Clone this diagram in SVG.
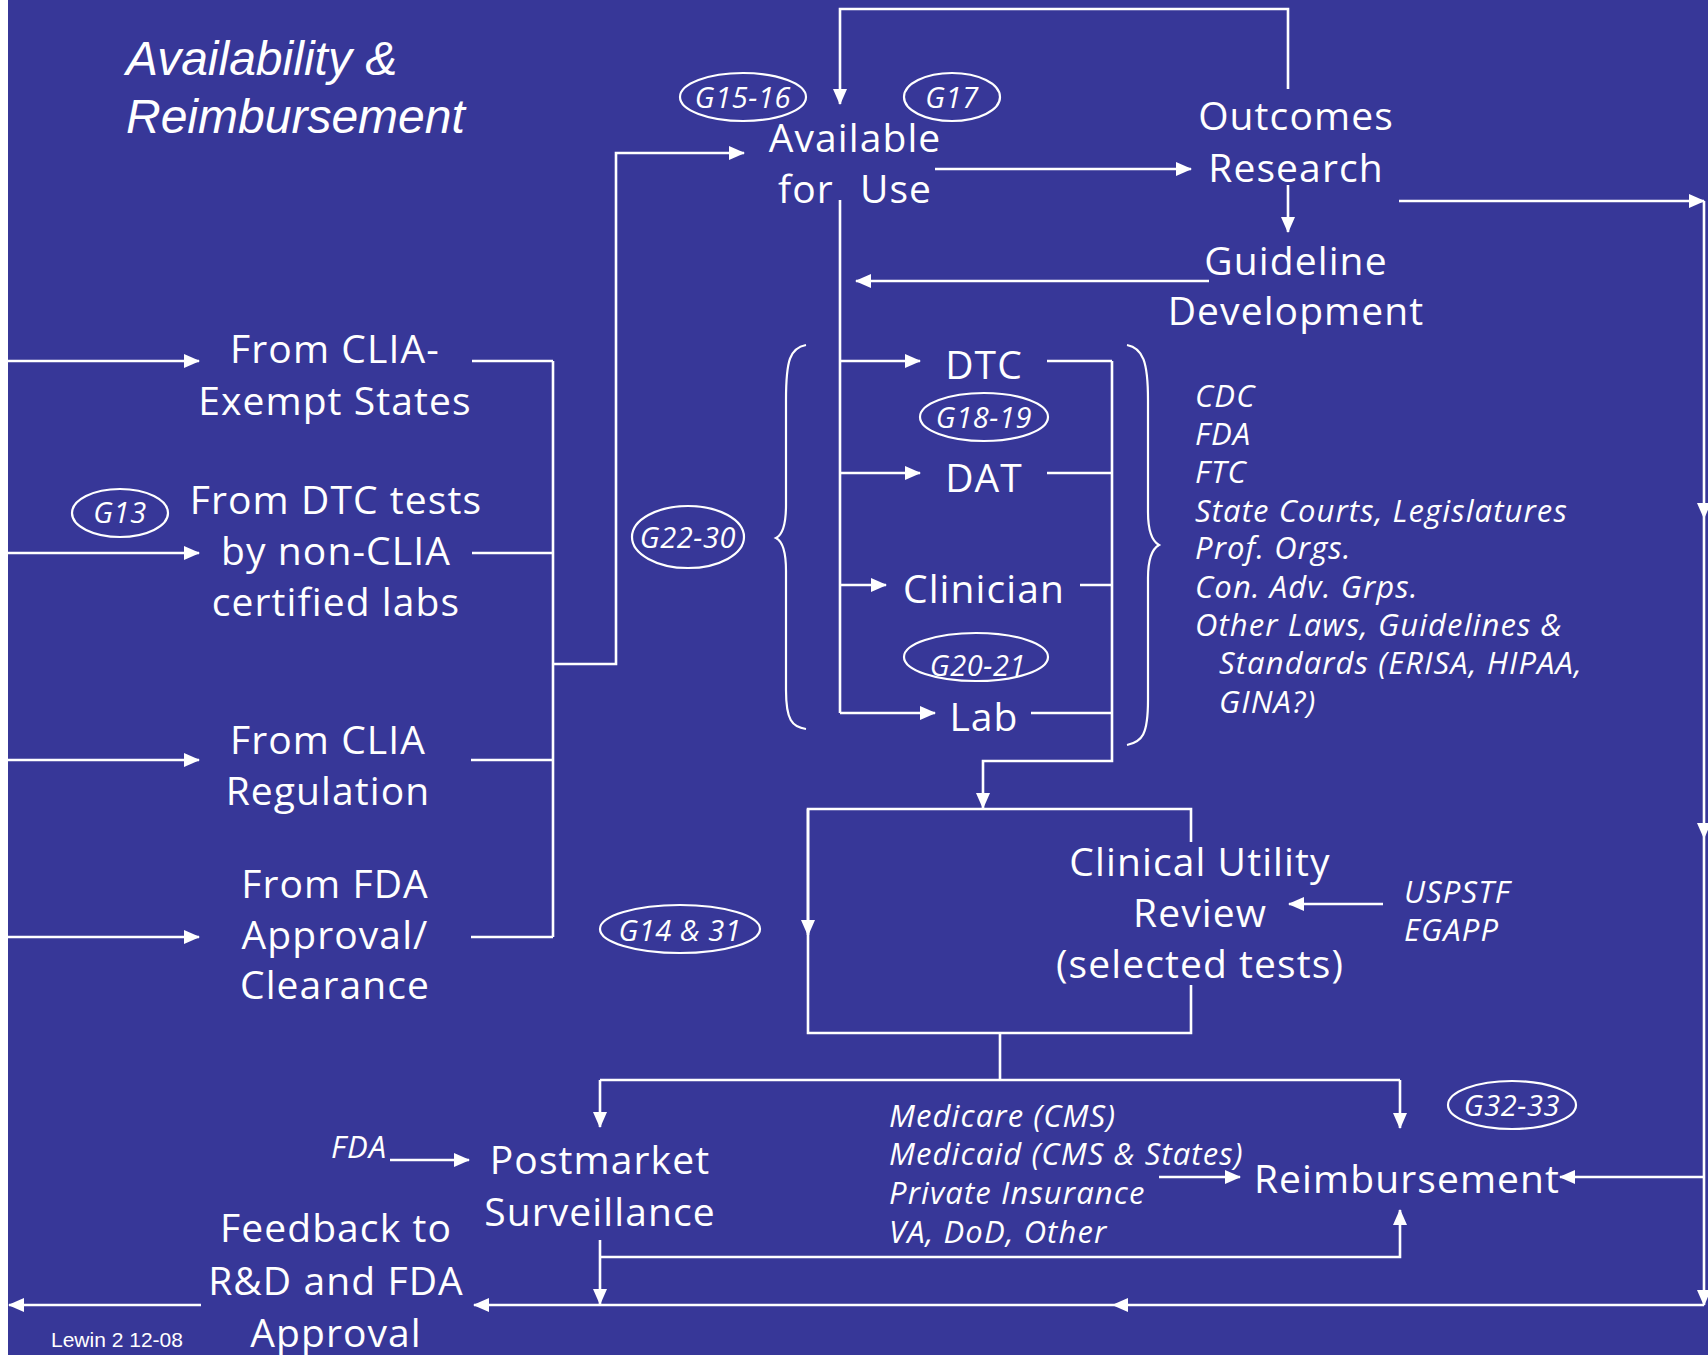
<svg xmlns="http://www.w3.org/2000/svg" width="1708" height="1355" viewBox="0 0 1708 1355">
<style>
.bg{fill:#373798}
.n{font-family:"Open Sans","DejaVu Sans",sans-serif;font-size:39px;letter-spacing:1.1px;fill:#fff;text-anchor:middle}
.it{font-family:"Open Sans","DejaVu Sans",sans-serif;font-style:italic;font-size:31px;letter-spacing:1.1px;fill:#fff}
.g{font-family:"Open Sans","DejaVu Sans",sans-serif;font-style:italic;font-size:29px;letter-spacing:0.6px;fill:#fff;text-anchor:middle}
.ov{fill:none;stroke:#fff;stroke-width:2.2}
.title{font-family:"Liberation Sans",Arial,sans-serif;font-style:italic;font-size:48px;fill:#fff}
.foot{font-family:"Liberation Sans",Arial,sans-serif;font-size:21px;fill:#fff}
.c path{fill:none;stroke:#fff;stroke-width:2.6}
.a{marker-end:url(#ah)}
</style>
<defs>
<marker id="ah" viewBox="0 0 16 14" refX="15" refY="7" markerWidth="16" markerHeight="14" markerUnits="userSpaceOnUse" orient="auto">
<path d="M0,0 L16,7 L0,14 z" fill="#fff"/>
</marker>
</defs>
<rect class="bg" x="0" y="0" width="1708" height="1355"/>
<rect x="0" y="0" width="8" height="1355" fill="#fff"/>

<g id="title">
<text class="title" x="126" y="75">Availability &amp;</text>
<text class="title" x="126" y="133">Reimbursement</text>
</g>

<g class="c" id="connectors">
<path class="a" d="M1288,89 V9 H840 V104"/>
<path class="a" d="M553,664 H616 V153 H744"/>
<path d="M553,361 V937"/>
<path d="M472,361 H553 M472,553 H553 M471,760 H553 M471,937 H553"/>
<path class="a" d="M8,361 H199"/>
<path class="a" d="M8,553 H199"/>
<path class="a" d="M8,760 H199"/>
<path class="a" d="M8,937 H199"/>
<path class="a" d="M935,169 H1191"/>
<path class="a" d="M1288,185 V232"/>
<path class="a" d="M1209,281 H856"/>
<path class="a" d="M1399,201 H1704"/>
<path class="a" d="M1704,201 V518"/>
<path class="a" d="M1704,518 V838"/>
<path class="a" d="M1704,838 V1305"/>
<path class="a" d="M1704,1177 H1560"/>
<path class="a" d="M1704,1305 H1113"/>
<path class="a" d="M1113,1305 H474"/>
<path class="a" d="M201,1305 H9"/>
<path d="M840,200 V713"/>
<path class="a" d="M840,361 H920"/>
<path class="a" d="M840,473 H920"/>
<path class="a" d="M840,585 H886"/>
<path class="a" d="M840,713 H935"/>
<path d="M1047,361 H1112 M1047,473 H1112 M1080,585 H1112 M1031,713 H1112"/>
<path class="a" d="M1112,361 V761 H983 V808"/>
<path d="M1191,842 V809 H808 V1033 H1191 V985"/>
<path class="a" d="M808,809 V935"/>
<path d="M1000,1033 V1080 M600,1080 H1400"/>
<path class="a" d="M600,1080 V1127"/>
<path class="a" d="M1400,1080 V1128"/>
<path class="a" d="M1383,904 H1289"/>
<path class="a" d="M1159,1177 H1240"/>
<path class="a" d="M600,1240 V1304"/>
<path class="a" d="M600,1257 H1400 V1210"/>
<path class="a" d="M390,1160 H469"/>
</g>

<g id="available">
<text class="n" x="855" y="152">Available</text>
<text class="n" y="203"><tspan x="806">for</tspan><tspan x="896">Use</tspan></text>
</g>
<g id="g15-16"><ellipse class="ov" cx="743" cy="97" rx="63" ry="24"/><text class="g" x="743" y="108">G15-16</text></g>
<g id="g17"><ellipse class="ov" cx="952" cy="97" rx="48" ry="24"/><text class="g" x="952" y="108">G17</text></g>

<g id="outcomes">
<text class="n" x="1296" y="130">Outcomes</text>
<text class="n" x="1296" y="182">Research</text>
</g>
<g id="guideline">
<text class="n" x="1296" y="275">Guideline</text>
<text class="n" x="1296" y="325">Development</text>
</g>

<g id="clia-exempt">
<text class="n" x="335" y="363">From CLIA-</text>
<text class="n" x="335" y="415">Exempt States</text>
</g>
<g id="g13"><ellipse class="ov" cx="120" cy="513" rx="48" ry="24"/><text class="g" x="120" y="523">G13</text></g>
<g id="dtc-tests">
<text class="n" x="336" y="514">From DTC tests</text>
<text class="n" x="336" y="565">by non-CLIA</text>
<text class="n" x="336" y="616">certified labs</text>
</g>
<g id="clia-reg">
<text class="n" x="328" y="754">From CLIA</text>
<text class="n" x="328" y="805">Regulation</text>
</g>
<g id="fda-approval">
<text class="n" x="335" y="898">From FDA</text>
<text class="n" x="335" y="949">Approval/</text>
<text class="n" x="335" y="999">Clearance</text>
</g>

<g id="g22-30"><ellipse class="ov" cx="688" cy="537" rx="56" ry="31"/><text class="g" x="688" y="548">G22-30</text></g>
<g id="brace-left"><path class="ov" d="M806,345 C790,348 786,360 786,400 L786,505 C786,525 782,535 776,538 C782,541 786,551 786,571 L786,690 C786,720 792,727 806,729"/></g>
<g id="brace-right"><path class="ov" d="M1127,345 C1143,348 1148,362 1148,400 L1148,512 C1148,532 1152,541 1159,545 C1152,549 1148,558 1148,578 L1148,700 C1148,735 1142,742 1127,745"/></g>

<g id="dtc"><text class="n" x="984" y="379">DTC</text></g>
<g id="g18-19"><ellipse class="ov" cx="984" cy="417" rx="64" ry="24"/><text class="g" x="984" y="428">G18-19</text></g>
<g id="dat"><text class="n" x="984" y="492">DAT</text></g>
<g id="clinician"><text class="n" x="984" y="603">Clinician</text></g>
<g id="g20-21"><ellipse class="ov" cx="976" cy="657" rx="72" ry="24"/><text class="g" x="978" y="676">G20-21</text></g>
<g id="lab"><text class="n" x="984" y="731">Lab</text></g>

<g id="agencies">
<text class="it" x="1195" y="407">CDC</text>
<text class="it" x="1195" y="445">FDA</text>
<text class="it" x="1195" y="483">FTC</text>
<text class="it" x="1195" y="522">State Courts, Legislatures</text>
<text class="it" x="1195" y="559">Prof. Orgs.</text>
<text class="it" x="1195" y="598">Con. Adv. Grps.</text>
<text class="it" x="1195" y="636">Other Laws, Guidelines &amp;</text>
<text class="it" x="1219" y="674">Standards (ERISA, HIPAA,</text>
<text class="it" x="1219" y="713">GINA?)</text>
</g>

<g id="clinical-utility">
<text class="n" x="1200" y="876">Clinical Utility</text>
<text class="n" x="1200" y="927">Review</text>
<text class="n" x="1200" y="978">(selected tests)</text>
</g>
<g id="uspstf">
<text class="it" x="1404" y="903">USPSTF</text>
<text class="it" x="1404" y="941">EGAPP</text>
</g>
<g id="g14-31"><ellipse class="ov" cx="680" cy="929" rx="80" ry="24"/><text class="g" x="680" y="941">G14 &amp; 31</text></g>

<g id="payers">
<text class="it" x="889" y="1127">Medicare (CMS)</text>
<text class="it" x="889" y="1165">Medicaid (CMS &amp; States)</text>
<text class="it" x="889" y="1204">Private Insurance</text>
<text class="it" x="889" y="1243">VA, DoD, Other</text>
</g>
<g id="reimbursement"><text class="n" x="1407" y="1193">Reimbursement</text></g>
<g id="g32-33"><ellipse class="ov" cx="1512" cy="1105" rx="64" ry="24"/><text class="g" x="1512" y="1116">G32-33</text></g>

<g id="fda-src"><text class="it" x="331" y="1158">FDA</text></g>
<g id="postmarket">
<text class="n" x="600" y="1174">Postmarket</text>
<text class="n" x="600" y="1226">Surveillance</text>
</g>
<g id="feedback">
<text class="n" x="336" y="1242">Feedback to</text>
<text class="n" x="336" y="1295">R&amp;D and FDA</text>
<text class="n" x="336" y="1347">Approval</text>
</g>
<g id="footer"><text class="foot" x="51" y="1347">Lewin 2 12-08</text></g>
</svg>
